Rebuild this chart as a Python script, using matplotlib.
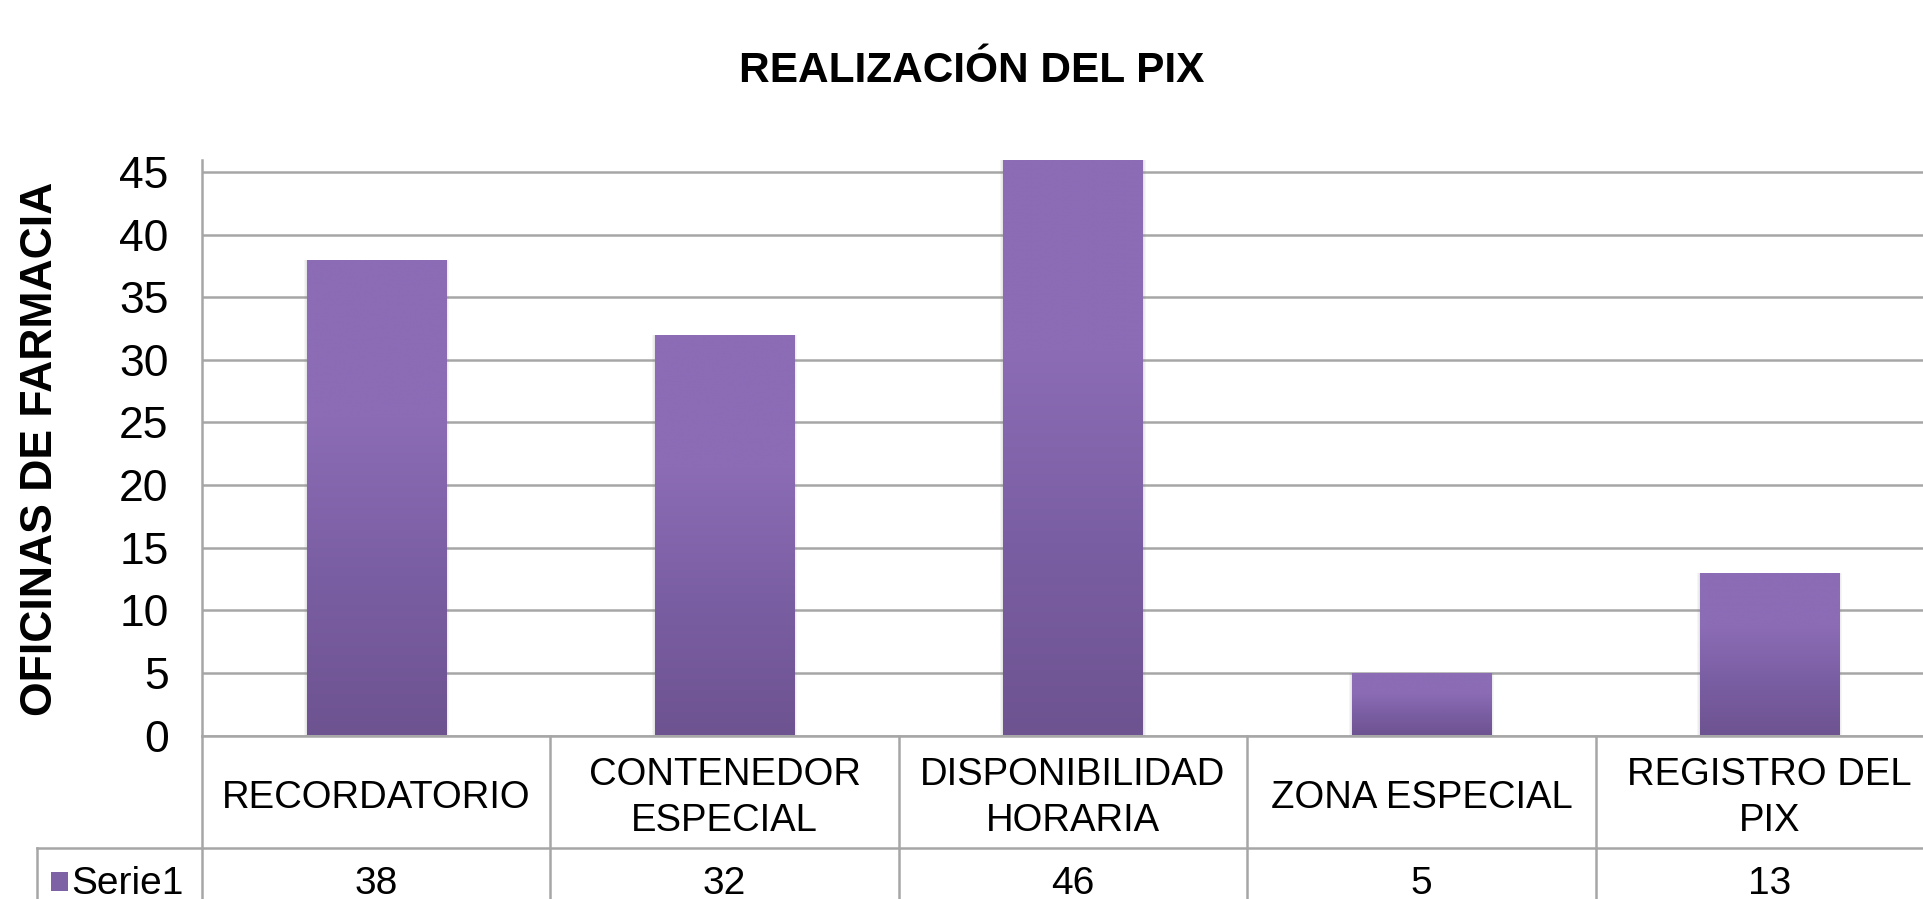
import numpy as np
import matplotlib
matplotlib.use('Agg')
import matplotlib.pyplot as plt
from matplotlib.patches import Rectangle
from matplotlib.colors import LinearSegmentedColormap
from matplotlib import transforms

# data
categories = ['RECORDATORIO', 'CONTENEDOR\nESPECIAL', 'DISPONIBILIDAD\nHORARIA',
              'ZONA ESPECIAL', 'REGISTRO DEL\nPIX']
values = [38, 32, 46, 5, 13]
series_name = 'Serie1'
y_ticks = [0, 5, 10, 15, 20, 25, 30, 35, 40, 45]
title = 'REALIZACIÓN DEL PIX'
y_label = 'OFICINAS DE FARMACIA'

plt.rcParams['font.family'] = ['Liberation Sans', 'DejaVu Sans']

W, H = 1924, 899
grid_col = '#a6a6a6'
bar_top = '#8b6cb5'
bar_bot = '#6e5391'

fig = plt.figure(figsize=(W / 100, H / 100), dpi=100)

# plot area in pixels (left, right, top, bottom)
x0, x1, y_top, y_zero = 202, 1944, 159.5, 735.5
ax = fig.add_axes([x0 / W, (H - y_zero) / H, (x1 - x0) / W, (y_zero - y_top) / H])
ax.set_xlim(0, len(categories))
ax.set_ylim(0, 46)
ax.set_yticks(y_ticks)
ax.set_yticklabels([str(t) for t in y_ticks], fontsize=32)
ax.tick_params(axis='y', length=0, pad=24, colors='#000000')
ax.set_xticks([])
for s in ['top', 'right', 'bottom']:
    ax.spines[s].set_visible(False)
ax.spines['left'].set_color(grid_col)
ax.spines['left'].set_linewidth(1.8)
for t in y_ticks:
    ax.axhline(t, color=grid_col, lw=1.8, zorder=1)

# bars with vertical gradient
cmap = LinearSegmentedColormap.from_list('bar', [bar_bot, '#7a5ea3', bar_top, bar_top])
grad = np.linspace(0, 1, 256).reshape(-1, 1)
bw = 0.40
px = 1 / 348.5
for i, v in enumerate(values):
    left = i + 0.5 - bw / 2
    for k in (3, 2, 1):
        ax.add_patch(Rectangle((left - k * px, 0), bw + 2 * k * px, v + k * px * 0.3,
                               facecolor='#808080', alpha=0.07, lw=0, zorder=2))
    rect = Rectangle((left, 0), bw, v, facecolor='none', lw=0, zorder=3)
    ax.add_patch(rect)
    im = ax.imshow(grad, extent=[left, left + bw, 0, v], origin='lower',
                   cmap=cmap, aspect='auto', zorder=3)
    im.set_clip_path(rect)
ax.set_xlim(0, len(categories))
ax.set_ylim(0, 46)

# data table below the axis
tr = transforms.blended_transform_factory(ax.transData, fig.transFigure)
row1_bottom = (H - 848) / H
top = (H - y_zero) / H
ax.axhline(0, color=grid_col, lw=1.8, zorder=4, clip_on=False)
for i in range(len(categories) + 1):
    fig.add_artist(plt.Line2D([i, i], [0, top], transform=tr, color=grid_col, lw=1.8))
fig.add_artist(plt.Line2D([37 / W, 1], [row1_bottom, row1_bottom],
                          transform=fig.transFigure, color=grid_col, lw=1.8))
fig.add_artist(plt.Line2D([37 / W, 37 / W], [0, row1_bottom],
                          transform=fig.transFigure, color=grid_col, lw=1.8))

for i, (c, v) in enumerate(zip(categories, values)):
    fig.text(i + 0.5, (H - 798) / H, c, transform=tr, ha='center', va='center',
             fontsize=27.5, linespacing=1.35)
    fig.text(i + 0.5, (H - 884) / H, str(v), transform=tr, ha='center', va='center',
             fontsize=28)

# legend key in table
fig.add_artist(Rectangle((51 / W, (H - 891) / H), 17 / W, 19 / H,
                         transform=fig.transFigure, facecolor='#7e62a6', lw=0))
fig.text(71 / W, (H - 884) / H, series_name, ha='left', va='center', fontsize=28)

# titles
fig.text(972 / W, 1 - 71 / H, title, ha='center', va='center',
         fontsize=30.5, fontweight='bold')
fig.text(41 / W, 1 - 449 / H, y_label, ha='center', va='center', rotation=90,
         fontsize=32, fontweight='bold')

fig.savefig('out.png', dpi=100)
